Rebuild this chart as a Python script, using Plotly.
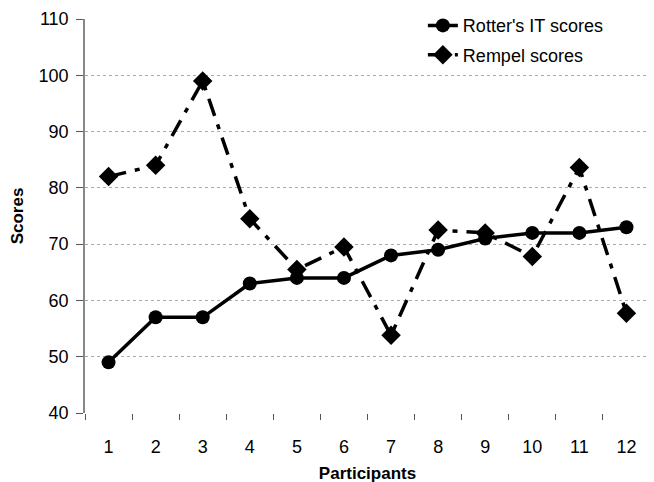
import plotly.graph_objects as go

participants = ["1", "2", "3", "4", "5", "6", "7", "8", "9", "10", "11", "12"]
rotter_scores = [49, 57, 57, 63, 64, 64, 68, 69, 71, 72, 72, 73]
rempel_scores = [82, 84, 99, 74.5, 65.5, 69.5, 53.8, 72.5, 72, 67.8, 83.6, 57.7]
y_ticks = [40, 50, 60, 70, 80, 90, 100, 110]

fig = go.Figure()
fig.add_trace(go.Scatter(
    x=participants, y=rempel_scores, name="Rempel scores",
    mode="lines+markers", legendgroup="b", legendrank=2,
    line=dict(color="black", width=3.5, dash="18px,9px,5px,9px"),
    marker=dict(symbol="diamond", size=15, color="black"),
))
fig.add_trace(go.Scatter(
    x=participants, y=rotter_scores, name="Rotter's IT scores",
    mode="lines+markers", legendgroup="a", legendrank=1,
    line=dict(color="black", width=3.5),
    marker=dict(symbol="circle", size=14, color="black"),
))

fig.update_layout(
    width=654, height=482,
    margin=dict(l=77, r=12, t=11, b=77, autoexpand=False),
    paper_bgcolor="white", plot_bgcolor="white",
    font=dict(family="Liberation Sans, Arial, sans-serif", size=18, color="black"),
    showlegend=True,
    legend=dict(
        x=0.598, y=1.03, xanchor="left", yanchor="top",
        traceorder="grouped", bgcolor="rgba(0,0,0,0)",
        font=dict(size=18), tracegroupgap=3,
    ),
    xaxis=dict(
        type="category", range=[-0.5, 11.5], tickson="boundaries",
        ticks="outside", ticklen=6,
        tickcolor="#555", showline=False, showgrid=False, zeroline=False,
        automargin=False, ticklabelstandoff=21,
        title=dict(text="<b>Participants</b>", font=dict(size=17), standoff=11),
    ),
    yaxis=dict(
        range=[40, 110], tickvals=y_ticks, ticks="outside", ticklen=7,
        tickcolor="#555", showline=True, linecolor="#888", linewidth=1.5,
        showgrid=True, gridcolor="#aaa", griddash="dot", gridwidth=1,
        zeroline=False, automargin=False, ticklabelstandoff=4,
        title=dict(text="<b>Scores</b>", font=dict(size=17), standoff=11),
    ),
)

fig.write_html("out.html")
